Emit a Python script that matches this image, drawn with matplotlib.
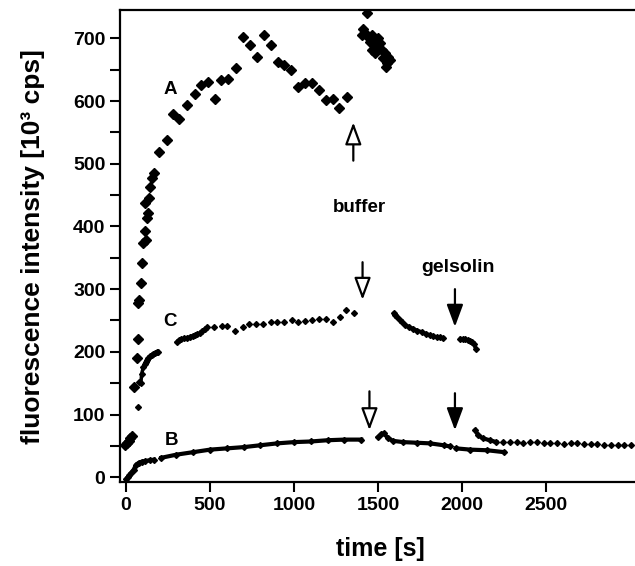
import numpy as np
import matplotlib
matplotlib.use("Agg")
import matplotlib.pyplot as plt

plt.rcParams['font.family'] = ['Liberation Sans', 'DejaVu Sans']
plt.rcParams['font.weight'] = 'bold'

# --- series A (large diamonds) ---
a_t = [-5, 5, 15, 25, 35, 48, 64, 73, 73, 77, 88, 97, 103, 113, 117, 113, 123, 129, 137, 143,
       157, 168, 196, 242, 282, 317, 365, 411, 445, 486, 532, 565, 609, 655, 698, 738, 778,
       821, 861, 903, 940, 982, 1026, 1065, 1109, 1149, 1190, 1234, 1270, 1314]
a_v = [52, 55, 58, 62, 65, 144, 190, 220, 278, 283, 310, 342, 374, 393, 379, 438, 414, 422, 446, 463,
       478, 486, 518, 538, 580, 572, 594, 612, 626, 631, 604, 633, 636, 652, 703, 690, 671,
       706, 689, 663, 657, 649, 623, 629, 629, 617, 601, 604, 589, 607]
# after buffer addition
a2_t = [1437, 1413, 1423, 1443, 1462, 1452, 1482, 1502, 1512, 1462, 1482, 1522, 1542, 1562,
        1572, 1552, 1548, 1532, 1492, 1403]
a2_v = [740, 715, 709, 703, 706, 695, 698, 701, 693, 682, 677, 682, 677, 671,
        666, 661, 655, 669, 688, 706]

# --- series C (small diamonds) ---
c_dots_t = [70, 79, 480, 526, 569, 603, 649, 694, 734, 772, 817, 861, 901, 940, 986, 1022,
            1065, 1109, 1151, 1190, 1230, 1274, 1310, 1359]
c_dots_v = [112, 152, 239, 239, 241, 241, 234, 240, 244, 245, 245, 247, 248, 248, 251, 248,
            249, 251, 253, 253, 247, 255, 266, 262]
c1_t = [88, 93, 103, 112, 119, 126, 133, 143, 153, 163, 173, 183, 192]
c1_v = [150, 165, 176, 180, 184, 187, 190, 193, 195, 197, 198, 199, 200]
c2_t = [302, 315, 330, 345, 360, 381, 396, 411, 425, 440, 455, 470]
c2_v = [216, 219, 220, 222, 222, 224, 226, 227, 229, 230, 234, 237]
c3_t = [1595, 1601, 1615, 1631, 1645, 1661, 1685, 1710, 1735, 1760, 1785, 1810, 1830, 1849, 1870, 1889]
c3_v = [262, 259, 255, 251, 247, 243, 240, 237, 234, 232, 229, 227, 225, 224, 223, 222]
c4_t = [1990, 2005, 2020, 2035, 2048, 2060, 2071, 2081]
c4_v = [221, 220, 220, 219, 218, 216, 213, 205]

# --- series B (small, dense) ---
b1_t = [0, 10, 20, 30, 45, 60, 75, 95, 115, 140, 165]
b1_v = [-3, 0, 3, 7, 12, 20, 23, 25, 26, 27, 28]
b2_t = [210, 300, 400, 500, 600, 700, 800, 900, 1000, 1100, 1200, 1300, 1400]
b2_v = [31, 36, 40, 44, 46, 48, 51, 54, 56, 57, 59, 60, 60]
b3_t = [1500, 1520, 1535, 1560, 1590, 1650, 1730, 1810, 1890, 1930]
b3_v = [64, 69, 70, 62, 58, 56, 55, 54, 51, 49]
b4_t = [1965, 2050, 2150, 2250]
b4_v = [46, 44, 43, 40]
b5_t = [2080, 2095, 2125, 2165, 2205]
b5_v = [75, 67, 62, 59, 56]
b_dots_t = [2246, 2286, 2326, 2366, 2406, 2446, 2486, 2526, 2566, 2606, 2646, 2686, 2726,
            2766, 2806, 2846, 2886, 2926, 2966, 3006]
b_dots_v = [56, 56, 56, 55, 56, 56, 55, 54, 54, 53, 54, 54, 53, 53, 53, 52, 52, 51, 52, 51]

fig = plt.figure(figsize=(6.35, 5.66), dpi=100)
ax = fig.add_axes([0.189, 0.148, 0.811, 0.834])

ax.plot(a_t, a_v, 'kD', ms=5, ls='none')
ax.plot(a2_t, a2_v, 'kD', ms=5, ls='none')

ax.plot(c_dots_t, c_dots_v, 'kD', ms=3, ls='none')
for t, v in [(c1_t, c1_v), (c2_t, c2_v), (c3_t, c3_v), (c4_t, c4_v)]:
    ax.plot(t, v, 'k-', marker='D', ms=3, lw=2.5)

for t, v in [(b1_t, b1_v), (b2_t, b2_v), (b3_t, b3_v), (b4_t, b4_v), (b5_t, b5_v)]:
    ax.plot(t, v, 'k-', marker='D', ms=3, lw=3)
ax.plot(b_dots_t, b_dots_v, 'kD', ms=3, ls='none')

open_arrow = dict(arrowstyle='-|>,head_width=0.5,head_length=1.35', fc='white', ec='black',
                  lw=1.6, shrinkA=0, shrinkB=0)
full_arrow = dict(open_arrow, fc='black')
ax.annotate('', xy=(1353, 566), xytext=(1353, 505), arrowprops=open_arrow)
ax.annotate('', xy=(1408, 283), xytext=(1408, 343), arrowprops=open_arrow)
ax.annotate('', xy=(1449, 75), xytext=(1449, 137), arrowprops=open_arrow)
ax.annotate('', xy=(1958, 240), xytext=(1958, 300), arrowprops=full_arrow)
ax.annotate('', xy=(1958, 75), xytext=(1958, 134), arrowprops=full_arrow)

ax.text(1389, 431, 'buffer', ha='center', va='center', fontsize=13.5, fontweight='bold')
ax.text(1978, 335, 'gelsolin', ha='center', va='center', fontsize=14, fontweight='bold')
ax.text(262, 618, 'A', ha='center', va='center', fontsize=13.5, fontweight='bold')
ax.text(262, 248, 'C', ha='center', va='center', fontsize=13.5, fontweight='bold')
ax.text(268, 59, 'B', ha='center', va='center', fontsize=13.5, fontweight='bold')

ax.set_xlim(-36, 3030)
ax.set_ylim(-8, 745)
ax.set_xticks([0, 500, 1000, 1500, 2000, 2500])
ax.set_yticks(range(0, 701, 100))
ax.set_yticks(range(50, 701, 100), minor=True)
ax.tick_params(which='both', direction='out', length=7, width=1.5, labelsize=14)
for lab in ax.get_xticklabels() + ax.get_yticklabels():
    lab.set_fontweight('bold')
ax.spines['right'].set_visible(False)
for s in ['left', 'bottom', 'top']:
    ax.spines[s].set_linewidth(1.6)

ax.set_xlabel('time [s]', fontsize=18, fontweight='bold')
ax.set_ylabel('fluorescence intensity [10³ cps]', fontsize=19, fontweight='bold')
ax.xaxis.set_label_coords(0.505, -0.115)
ax.yaxis.set_label_coords(-0.145, 0.5)

fig.savefig('out.png', dpi=100)
